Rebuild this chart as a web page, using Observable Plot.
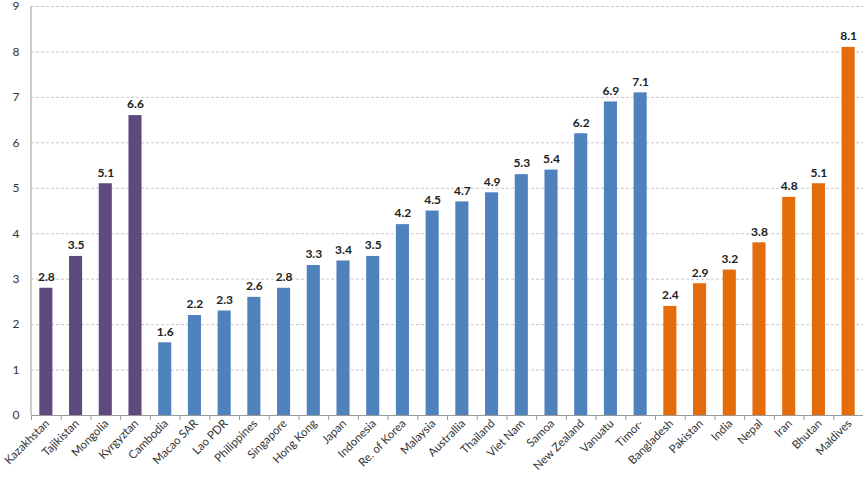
<!DOCTYPE html>
<html><head><meta charset="utf-8">
<script src="https://cdn.jsdelivr.net/npm/d3@7"></script>
<script src="https://cdn.jsdelivr.net/npm/@observablehq/plot@0.6"></script>
<style>body{margin:0;background:#fff;} svg{display:block;}</style>
</head><body><div id="chart"></div>
<script>
const countries = ["Kazakhstan","Tajikistan","Mongolia","Kyrgyztan","Cambodia","Macao SAR","Lao PDR","Philippines","Singapore","Hong Kong","Japan","Indonesia","Re. of Korea","Malaysia","Australlia","Thailand","Viet Nam","Samoa","New Zealand","Vanuatu","Timor-","Bangladesh","Pakistan","India","Nepal","Iran","Bhutan","Maldives"];
const values = [2.8,3.5,5.1,6.6,1.6,2.2,2.3,2.6,2.8,3.3,3.4,3.5,4.2,4.5,4.7,4.9,5.3,5.4,6.2,6.9,7.1,2.4,2.9,3.2,3.8,4.8,5.1,8.1];
const groups = ["Central","Central","Central","Central","East","East","East","East","East","East","East","East","East","East","East","East","East","East","East","East","East","South","South","South","South","South","South","South"];
const groupNames = ["Central","East","South"];
const groupColors = ["#5F4A80","#4F81BD","#E46C0A"];
const yTicks = [0,1,2,3,4,5,6,7,8,9];

const data = countries.map((c,i)=>({country:c, value:values[i], group:groups[i]}));
const W = 864, H = 487, mL = 31, mR = 1, mT = 6, mB = 72;
const step = (W - mL - mR) / countries.length;

const chart = Plot.plot({
  width: W, height: H,
  marginLeft: mL, marginRight: mR, marginTop: mT, marginBottom: mB,
  style: {fontFamily: "Lato, 'Open Sans', sans-serif", fontSize: "12px", color: "#333"},
  x: {domain: countries, paddingInner: 0.56, paddingOuter: 0.28, round: false, label: null},
  y: {domain: [0,9], label: null},
  color: {domain: groupNames, range: groupColors},
  marks: [
    Plot.gridY(yTicks, {stroke: "#c8c8c8", strokeOpacity: 1, strokeDasharray: "3,2"}),
    Plot.barY(data, {x: "country", y: "value", fill: "group"}),
    Plot.text(data, {x: "country", y: "value", text: d => d.value.toFixed(1), dy: -11, fontWeight: "bold", fontSize: 12, fill: "#222"}),
    Plot.axisY(yTicks, {tickSize: 0, tickPadding: 12, fontSize: 12, fill: "#333"}),
    Plot.axisX({tickSize: 5, tickFormat: () => "", dx: -step/2, stroke: "#999"}),
    Plot.axisX({tickSize: 0, tickPadding: 6, tickRotate: -45, fontSize: 11.5, dx: 1, fill: "#333"}),
    Plot.ruleY([0], {stroke: "#999"})
  ]
});
// vertical y-axis line
d3.select(chart).append("line")
  .attr("x1", mL).attr("x2", mL).attr("y1", mT).attr("y2", H - mB)
  .attr("stroke", "#999");
document.getElementById("chart").appendChild(chart);
</script></body></html>
